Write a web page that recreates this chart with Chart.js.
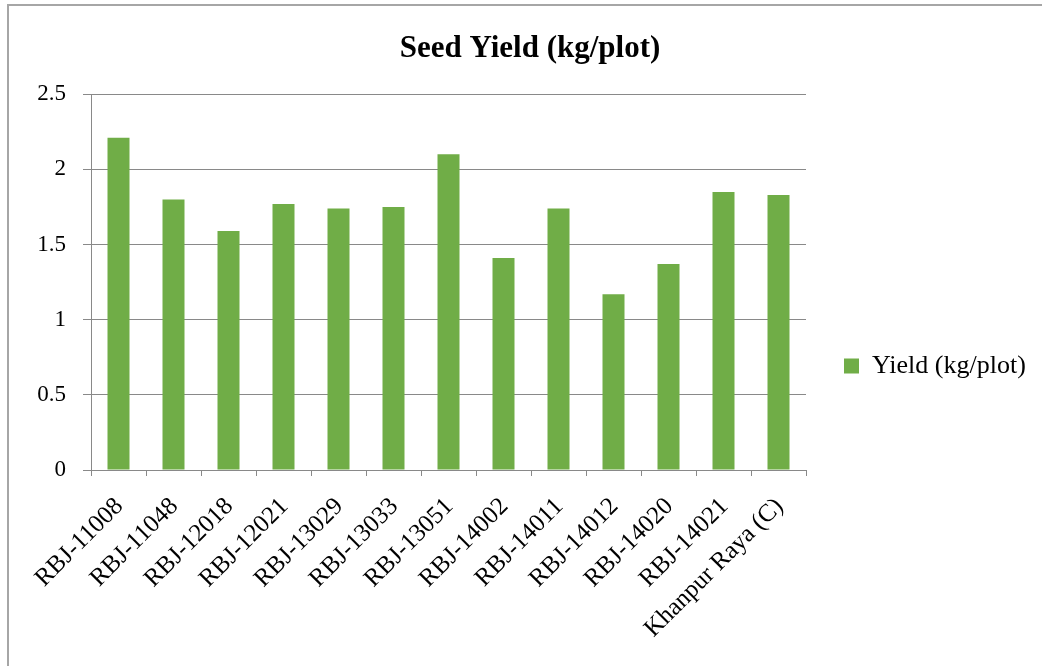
<!DOCTYPE html>
<html>
<head>
<meta charset="utf-8">
<script src="https://cdn.jsdelivr.net/npm/chart.js@4.4.1/dist/chart.umd.min.js"></script>
<style>
  html, body { margin: 0; padding: 0; background: #fff; overflow: hidden; }
  #wrap { position: relative; width: 1042px; height: 666px; }
  #frame { position: absolute; left: 7px; top: 4px; width: 1100px; height: 700px; border: 2px solid #a6a6a6; box-sizing: border-box; }
  canvas { position: absolute; left: 0; top: 0; }
</style>
</head>
<body>
<div id="wrap">
  <div id="frame"></div>
  <canvas id="chart" width="1042" height="666"></canvas>
</div>
<script>
const categories = [
  'RBJ-11008', 'RBJ-11048', 'RBJ-12018', 'RBJ-12021', 'RBJ-13029', 'RBJ-13033',
  'RBJ-13051', 'RBJ-14002', 'RBJ-14011', 'RBJ-14012', 'RBJ-14020', 'RBJ-14021',
  'Khanpur Raya (C)',
];
const yieldValues = [2.21, 1.80, 1.59, 1.77, 1.74, 1.75, 2.10, 1.41, 1.74, 1.17, 1.37, 1.85, 1.83];
const seriesName = 'Yield (kg/plot)';
const chartTitle = 'Seed Yield (kg/plot)';

const serif = "'Liberation Serif', 'Times New Roman', serif";
const axisGray = '#898989';

// pin the legend column width and push it down like the original
const legendPlace = {
  id: 'legendPlace',
  beforeLayout(chart) {
    const lg = chart.legend;
    if (lg && !lg._patched) {
      const fit = lg.fit;
      lg.fit = function () {
        fit.call(this);
        this.width = 236;
      };
      lg._patched = true;
    }
  },
  afterLayout(chart) {
    const lg = chart.legend;
    lg.top += 33;
    lg.bottom += 33;
  },
};

new Chart(document.getElementById('chart'), {
  type: 'bar',
  data: {
    labels: categories,
    datasets: [
      {
        label: seriesName,
        data: yieldValues,
        backgroundColor: '#70AD47',
        barPercentage: 0.4,
        categoryPercentage: 1,
      },
    ],
  },
  plugins: [legendPlace],
  options: {
    responsive: false,
    animation: false,
    layout: { padding: { left: 18, right: 0, top: 0, bottom: 0 } },
    plugins: {
      title: {
        display: true,
        text: chartTitle,
        color: '#000',
        font: { family: serif, size: 31, weight: 'bold' },
        padding: { top: 30, bottom: 27 },
      },
      legend: {
        position: 'right',
        labels: {
          color: '#000',
          font: { family: serif, size: 26 },
          boxWidth: 15,
          boxHeight: 15,
          padding: 38,
        },
      },
      tooltip: { enabled: false },
    },
    scales: {
      y: {
        min: 0,
        max: 2.5,
        afterFit(scale) {
          scale.width = 73;
        },
        ticks: {
          stepSize: 0.5,
          color: '#000',
          font: { family: serif, size: 23 },
          padding: 17,
          callback: (v) => String(+v.toFixed(1)),
        },
        grid: { color: axisGray, tickLength: 8 },
        border: { color: axisGray },
      },
      x: {
        afterFit(scale) {
          scale.height = 196;
        },
        ticks: {
          color: '#000',
          font: { family: serif, size: 25 },
          minRotation: 45,
          maxRotation: 45,
          autoSkip: false,
          padding: 16,
          labelOffset: 1,
        },
        grid: { display: true, drawOnChartArea: false, color: axisGray, tickLength: 6, offset: true },
        border: { color: axisGray },
      },
    },
  },
});
</script>
</body>
</html>
